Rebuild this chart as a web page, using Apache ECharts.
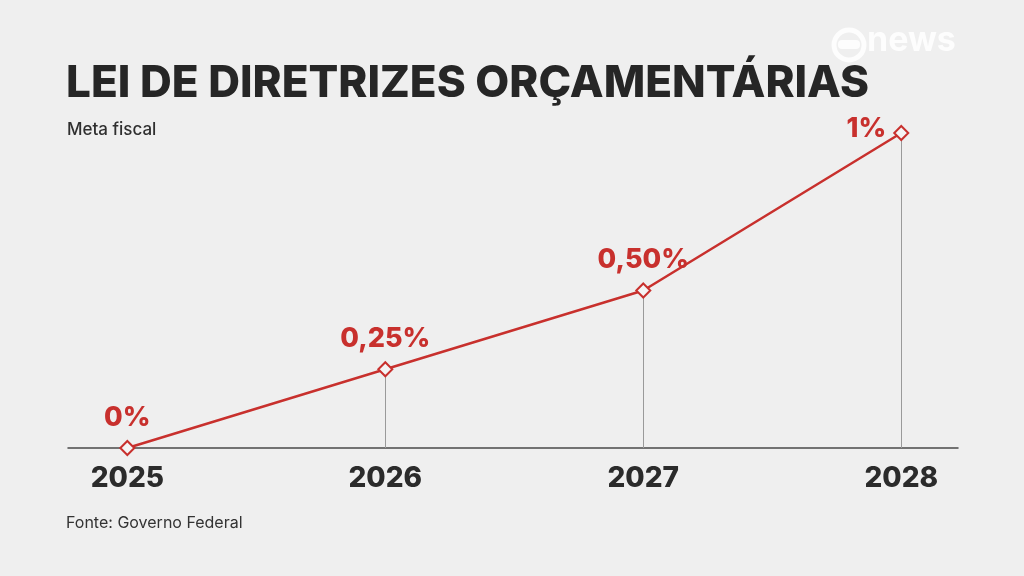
<!DOCTYPE html>
<html><head><meta charset="utf-8">
<script src="https://cdn.jsdelivr.net/npm/echarts@6/dist/echarts.min.js"></script>
<style>html,body{margin:0;padding:0;background:#efefef;}#c{width:1024px;height:576px;}</style>
</head><body><div id="c"></div>
<script>
const years = [2025, 2026, 2027, 2028];
const values = [0, 0.25, 0.5, 1];
const valueLabels = ['0%', '0,25%', '0,50%', '1%'];
const titleText = 'LEI DE DIRETRIZES ORÇAMENTÁRIAS';
const subtitleText = 'Meta fiscal';
const sourceText = 'Fonte: Governo Federal';

const red = '#c8302d';
const chart = echarts.init(document.getElementById('c'));

const seriesData = years.map((y, i) => {
  const last = i === years.length - 1;
  return {
    value: [y, values[i]],
    label: last ? { position: 'left', offset: [-2, -4] } : { position: 'top', offset: [0, -4] }
  };
});

const dropLines = years.map((y, i) => [{ coord: [y, 0] }, { coord: [y, values[i]] }]).filter(p => p[1].coord[1] > 0);

chart.setOption({
  backgroundColor: '#efefef',
  animation: false,
  title: [
    { text: titleText, left: 61, top: 57, textStyle: { fontFamily: 'Inter', fontWeight: 800, fontSize: 44, color: '#262626' } },
    { text: subtitleText, left: 62, top: 116, textStyle: { fontFamily: 'Inter', fontWeight: 500, fontSize: 17, color: '#2f2f2f' } },
    { text: sourceText, left: 61, top: 510, textStyle: { fontFamily: 'Inter', fontWeight: 400, fontSize: 16, color: '#333' } }
  ],
  graphic: [
    { type: 'circle', shape: { cx: 849, cy: 45, r: 15 }, style: { fill: 'none', stroke: '#ffffff', lineWidth: 5, opacity: 0.85 } },
    { type: 'rect', shape: { x: 838, y: 40, width: 22, height: 9, r: 4 }, style: { fill: '#ffffff', opacity: 0.85 } },
    { type: 'text', left: 867, top: 24, style: { text: 'news', fill: '#ffffff', opacity: 0.85, font: 'bold 34px Inter' } }
  ],
  grid: { left: 68, right: 66, top: 133, bottom: 128 },
  xAxis: {
    type: 'value', min: 2024.77, max: 2028.22,
    splitLine: { show: false },
    axisTick: { show: false },
    axisLine: { show: true, lineStyle: { color: '#4a4a4a', width: 1.5 } },
    axisLabel: {
      customValues: years, margin: 17,
      formatter: v => String(v),
      fontFamily: 'Inter', fontWeight: 800, fontSize: 28, color: '#2b2b2b'
    }
  },
  yAxis: { type: 'value', min: 0, max: 1, show: false, splitLine: { show: false } },
  series: [{
    type: 'line',
    data: seriesData,
    symbol: 'diamond', symbolSize: 14,
    itemStyle: { color: '#f4f4f4', borderColor: red, borderWidth: 2 },
    lineStyle: { color: red, width: 2.5 },
    z: 5,
    label: {
      show: true,
      formatter: p => valueLabels[p.dataIndex],
      fontFamily: 'Inter', fontWeight: 800, fontSize: 27, color: red
    },
    markLine: {
      silent: true, symbol: 'none', label: { show: false },
      lineStyle: { color: '#9a9a9a', width: 1, type: 'solid' },
      data: dropLines, z: 1
    }
  }]
});
</script></body></html>
